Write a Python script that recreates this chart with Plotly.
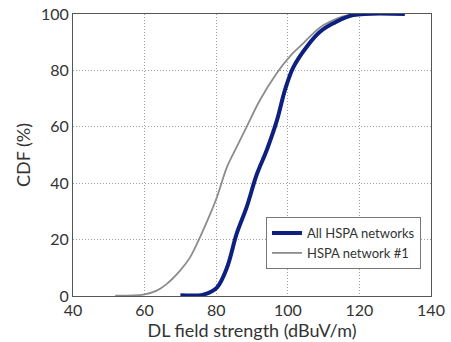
import plotly.graph_objects as go

all_x = [70, 76.4, 80.2, 83, 85.7, 88.5, 91.3, 94.1, 96.9, 99.2, 101.5, 105.3, 109, 112.7, 118.3, 132.7]
all_y = [0.3, 0.5, 3, 10, 22, 31.5, 43, 51.7, 62, 73, 81, 88.4, 93.7, 96.7, 99.6, 100]

net1_x = [51.8, 59.7, 63.4, 66.2, 69.9, 72.7, 75.5, 78.3, 80.2, 83, 85.7, 88.5, 92.2, 96.9, 100.6, 104.3, 109.9, 118.3, 132.7]
net1_y = [0.1, 0.5, 1.9, 4.3, 9, 13.7, 20.9, 29, 35, 45.7, 52.8, 60, 69.4, 79, 85, 89.6, 96, 100, 100]

x_ticks = [40, 60, 80, 100, 120, 140]
y_ticks = [0, 20, 40, 60, 80, 100]

fig = go.Figure()
fig.add_trace(go.Scatter(x=net1_x, y=net1_y, mode="lines", name="HSPA network #1",
                         line=dict(color="#8c8c8c", width=1.8), line_shape="spline"))
fig.add_trace(go.Scatter(x=all_x, y=all_y, mode="lines", name="All HSPA networks",
                         line=dict(color="#0d2080", width=4), line_shape="spline"))

axis_common = dict(showline=True, linecolor="#555555", linewidth=1, mirror=True,
                   showgrid=True, gridcolor="#a0a0a0", griddash="1px,2px", gridwidth=1,
                   zeroline=False, ticks="", automargin=False,
                   tickfont=dict(size=16, color="#333333"),
                   title_font=dict(size=18, color="#333333"))

fig.update_layout(
    width=451, height=342,
    margin=dict(l=73, r=20, t=14, b=46),
    paper_bgcolor="white", plot_bgcolor="white",
    font=dict(family="Lato, Open Sans, sans-serif", color="#333333"),
    showlegend=True,
    legend=dict(x=0.539, y=0.28, xanchor="left", yanchor="top",
                bgcolor="white", bordercolor="#777777", borderwidth=1,
                font=dict(size=13, color="#333333"), traceorder="reversed",
                tracegroupgap=0, itemwidth=30),
)
fig.update_xaxes(range=[40, 140], tickvals=x_ticks, title_text="DL field strength (dBuV/m)",
                 title_standoff=0, **axis_common)
fig.update_yaxes(range=[0, 100], tickvals=y_ticks, title_text="CDF (%)",
                 title_standoff=5, **axis_common)

fig.write_html("out.html", config={"displayModeBar": False},
               post_script="document.body.style.margin='0';")
